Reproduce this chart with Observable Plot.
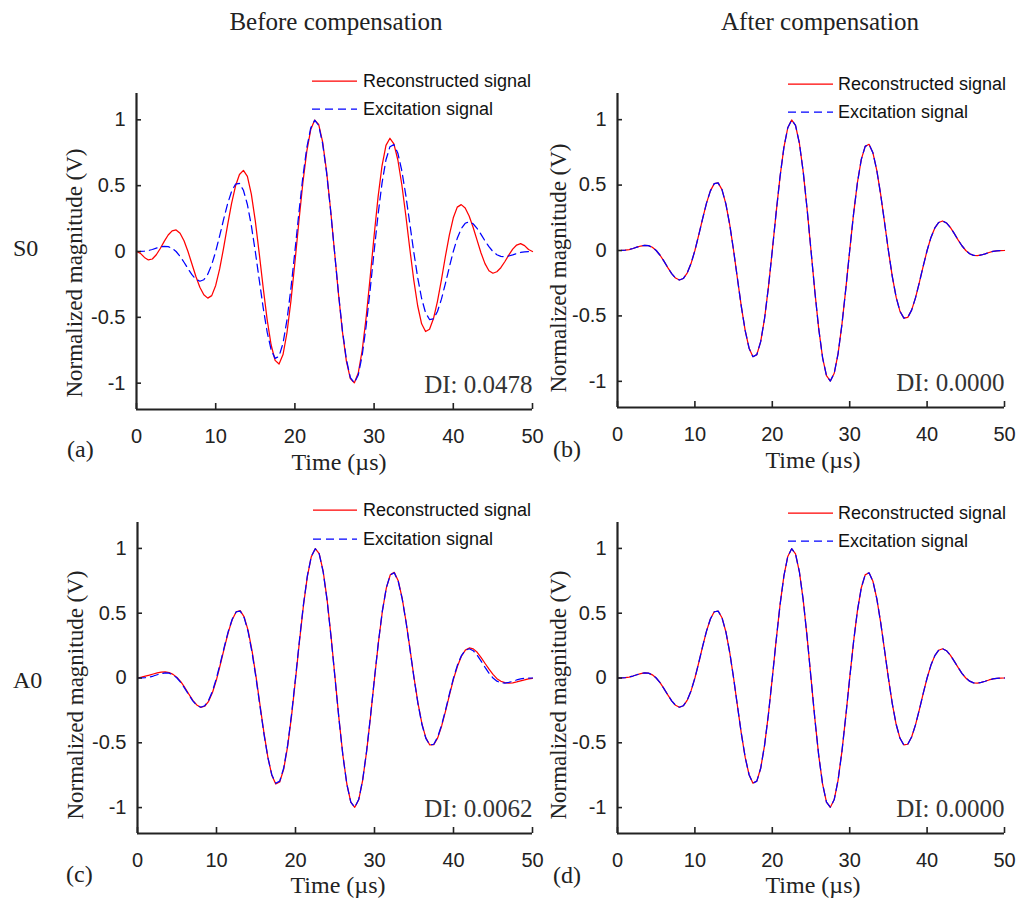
<!DOCTYPE html>
<html>
<head>
<meta charset="utf-8">
<script src="https://cdn.jsdelivr.net/npm/d3@7"></script>
<script src="https://cdn.jsdelivr.net/npm/@observablehq/plot@0.6"></script>
<style>
  body { margin: 0; background: #fff; }
  #fig { position: relative; width: 1016px; height: 902px; overflow: hidden; background: #fff; }
  #fig > svg { position: absolute; }
</style>
</head>
<body>
<div id="fig"></div>
<script>
// ---------------- data ----------------
const time = [0,0.5,1,1.5,2,2.5,3,3.5,4,4.5,5,5.5,6,6.5,7,7.5,8,8.5,9,9.5,
  10,10.5,11,11.5,12,12.5,13,13.5,14,14.5,15,15.5,16,16.5,17,17.5,18,18.5,19,19.5,
  20,20.5,21,21.5,22,22.5,23,23.5,24,24.5,25,25.5,26,26.5,27,27.5,28,28.5,29,29.5,
  30,30.5,31,31.5,32,32.5,33,33.5,34,34.5,35,35.5,36,36.5,37,37.5,38,38.5,39,39.5,
  40,40.5,41,41.5,42,42.5,43,43.5,44,44.5,45,45.5,46,46.5,47,47.5,48,48.5,49,49.5,50];

// Excitation signal (normalized)
const excitation = [
  0, 0.0003, 0.0024, 0.0074, 0.0152, 0.0251, 0.0342, 0.0394, 0.0372, 0.0246,
  0, -0.0363, -0.0815, -0.1305, -0.1763, -0.2107, -0.2257, -0.2143, -0.1726, -0.0998,
  0, 0.1187, 0.2443, 0.3618, 0.4557, 0.5113, 0.5168, 0.4654, 0.3570, 0.1972,
  0, -0.2162, -0.4286, -0.6129, -0.7467, -0.8118, -0.7961, -0.6967, -0.5197, -0.2797,
  0, 0.2913, 0.5640, 0.7878, 0.9382, 0.9975, 0.9572, 0.8198, 0.5989, 0.3156,
  0, -0.3156, -0.5989, -0.8198, -0.9572, -0.9975, -0.9382, -0.7878, -0.5640, -0.2913,
  0, 0.2797, 0.5197, 0.6967, 0.7961, 0.8118, 0.7467, 0.6129, 0.4286, 0.2162,
  0, -0.1972, -0.3570, -0.4654, -0.5168, -0.5113, -0.4557, -0.3618, -0.2443, -0.1187,
  0, 0.0998, 0.1726, 0.2143, 0.2257, 0.2107, 0.1763, 0.1305, 0.0815, 0.0363,
  0, -0.0246, -0.0372, -0.0394, -0.0342, -0.0251, -0.0152, -0.0074, -0.0024, -0.0003,
  0];

// (a) S0 reconstructed, before compensation
const reconstructedS0Before = [
  0, -0.014, -0.045, -0.064, -0.057, -0.025, 0.023, 0.077, 0.125, 0.157,
  0.164, 0.139, 0.082, 0.000, -0.095, -0.190, -0.272, -0.329, -0.354, -0.335,
  -0.258, -0.132, 0.027, 0.200, 0.363, 0.497, 0.585, 0.616, 0.570, 0.436,
  0.233, -0.016, -0.277, -0.519, -0.710, -0.827, -0.855, -0.783, -0.617, -0.375,
  -0.083, 0.226, 0.518, 0.760, 0.926, 0.998, 0.966, 0.832, 0.609, 0.321,
  0, -0.321, -0.609, -0.832, -0.966, -0.998, -0.923, -0.750, -0.498, -0.197,
  0.119, 0.413, 0.651, 0.806, 0.860, 0.817, 0.695, 0.507, 0.275, 0.025,
  -0.213, -0.412, -0.549, -0.608, -0.590, -0.509, -0.378, -0.215, -0.038, 0.125,
  0.256, 0.337, 0.356, 0.330, 0.270, 0.184, 0.086, -0.011, -0.092, -0.146,
  -0.165, -0.154, -0.123, -0.078, -0.028, 0.018, 0.049, 0.060, 0.045, 0.015,
  0];

// (c) A0 reconstructed, before compensation
const reconstructedA0Before = [
  0, 0.006, 0.014, 0.022, 0.031, 0.039, 0.045, 0.047, 0.042, 0.028,
  0.004, -0.030, -0.075, -0.125, -0.172, -0.208, -0.226, -0.218, -0.180, -0.110,
  -0.012, 0.108, 0.235, 0.355, 0.452, 0.511, 0.520, 0.472, 0.367, 0.210,
  0.012, -0.205, -0.420, -0.610, -0.750, -0.818, -0.803, -0.705, -0.530, -0.292,
  -0.012, 0.282, 0.556, 0.783, 0.936, 0.998, 0.960, 0.825, 0.605, 0.322,
  0.006, -0.312, -0.596, -0.818, -0.957, -0.998, -0.940, -0.790, -0.568, -0.296,
  -0.004, 0.276, 0.517, 0.696, 0.797, 0.815, 0.751, 0.616, 0.432, 0.221,
  0.004, -0.192, -0.352, -0.462, -0.517, -0.515, -0.462, -0.370, -0.254, -0.129,
  -0.008, 0.090, 0.168, 0.215, 0.232, 0.225, 0.198, 0.157, 0.112, 0.068,
  0.028, -0.005, -0.025, -0.036, -0.040, -0.037, -0.030, -0.022, -0.014, -0.007,
  -0.002];

// (b), (d) after compensation: reconstruction coincides with excitation (DI = 0)
const reconstructedS0After = excitation;
const reconstructedA0After = excitation;

const xTicks = [0, 10, 20, 30, 40, 50];
const yTicks = [-1, -0.5, 0, 0.5, 1];
const xDomain = [0, 50];
const yDomain = [-1.2, 1.2];
const seriesNames = ["Reconstructed signal", "Excitation signal"];
const columnTitles = ["Before compensation", "After compensation"];
const rowTitles = ["S0", "A0"];
const panelLetters = ["(a)", "(b)", "(c)", "(d)"];
const diLabels = ["DI: 0.0478", "DI: 0.0000", "DI: 0.0062", "DI: 0.0000"];
const xLabel = "Time (\u00b5s)";
const yLabel = "Normalized magnitude (V)";

// ---------------- layout ----------------
const SERIF = '"Liberation Serif", "Times New Roman", serif';
const SANS = '"Liberation Sans", Arial, sans-serif';
const RED = "#ff0000", BLUE = "#0000ff", INK = "#222";

const panels = [
  {rec: reconstructedS0Before, di: diLabels[0], left: 0,   top: 60,  w: 560, h: 389, ml: 136, mr: 28, mt: 33, mb: 40,
   letter: [67, 457], xl: [339, 470], yl: [82, 273], leg: [312, 357, 363, 81, 109]},
  {rec: reconstructedS0After,  di: diLabels[1], left: 560, top: 60,  w: 456, h: 387, ml: 57,  mr: 12, mt: 33, mb: 40,
   letter: [553, 457], xl: [813, 468], yl: [566, 268], leg: [788, 833, 838, 84, 112]},
  {rec: reconstructedA0Before, di: diLabels[2], left: 0,   top: 490, w: 560, h: 383, ml: 137, mr: 28, mt: 32, mb: 40,
   letter: [66, 882], xl: [338, 893], yl: [83, 695], leg: [313, 357, 363, 510, 539]},
  {rec: reconstructedA0After,  di: diLabels[3], left: 560, top: 490, w: 456, h: 383, ml: 57,  mr: 12, mt: 32, mb: 40,
   letter: [553, 883], xl: [813, 893], yl: [566, 695], leg: [788, 833, 838, 513, 541]}
];

const fig = document.getElementById("fig");

panels.forEach((p) => {
  const rows = time.map((t, i) => ({t, rec: p.rec[i], exc: excitation[i]}));
  const svg = Plot.plot({
    width: p.w, height: p.h,
    marginLeft: p.ml, marginRight: p.mr, marginTop: p.mt, marginBottom: p.mb,
    style: {fontFamily: SANS, fontSize: "20px", color: INK, background: "transparent", overflow: "visible"},
    x: {domain: xDomain},
    y: {domain: yDomain},
    marks: [
      Plot.lineY(rows, {x: "t", y: "rec", stroke: RED, strokeWidth: 1.25}),
      Plot.lineY(rows, {x: "t", y: "exc", stroke: BLUE, strokeWidth: 1.25, strokeDasharray: "8,5"}),
      Plot.ruleX([xDomain[0]], {stroke: INK, strokeWidth: 2.2}),
      Plot.ruleY([yDomain[0]], {stroke: INK, strokeWidth: 2.2}),
      Plot.axisX(xTicks, {tickSize: 6, dy: -6, tickFormat: () => "", label: null, strokeWidth: 1.6}),
      Plot.axisX(xTicks, {tickSize: 0, tickPadding: 19, tickFormat: (d) => String(d), label: null}),
      Plot.axisY(yTicks, {tickSize: 5, dx: 5, tickFormat: () => "", label: null, strokeWidth: 1.6}),
      Plot.axisY(yTicks, {tickSize: 0, tickPadding: 11, tickFormat: (d) => String(d), label: null}),
      Plot.text([p.di], {text: (d) => d, frameAnchor: "bottom-right", textAnchor: "end", lineAnchor: "bottom",
        dy: -17, fontFamily: SERIF, fontSize: 25, fill: "#333"})
    ]
  });
  svg.style.position = "absolute";
  svg.style.left = p.left + "px";
  svg.style.top = p.top + "px";
  fig.appendChild(svg);
});

// ---------------- annotations (titles, labels, legends) ----------------
const ov = d3.select(fig).append("svg")
  .attr("width", 1016).attr("height", 902)
  .style("left", "0px").style("top", "0px").style("pointer-events", "none");

const txt = (s, x, y, opts = {}) => ov.append("text")
  .attr("x", x).attr("y", y)
  .attr("font-family", opts.family || SERIF)
  .attr("font-size", opts.size || 24)
  .attr("fill", opts.fill || "#222")
  .attr("text-anchor", opts.anchor || "start")
  .attr("dominant-baseline", opts.baseline || "alphabetic")
  .attr("transform", opts.rotate ? `rotate(${opts.rotate},${x},${y})` : null)
  .text(s);

txt(columnTitles[0], 336, 30, {size: 25, anchor: "middle"});
txt(columnTitles[1], 820, 30, {size: 25, anchor: "middle"});
txt(rowTitles[0], 13, 256, {size: 24});
txt(rowTitles[1], 13, 688, {size: 24});

panels.forEach((p, i) => {
  txt(panelLetters[i], p.letter[0], p.letter[1], {size: 24});
  txt(xLabel, p.xl[0], p.xl[1], {size: 24, anchor: "middle"});
  txt(yLabel, p.yl[0], p.yl[1], {size: 23, anchor: "middle", rotate: -90});
  const [x1, x2, tx, y1, y2] = p.leg;
  ov.append("line").attr("x1", x1).attr("x2", x2).attr("y1", y1).attr("y2", y1)
    .attr("stroke", RED).attr("stroke-width", 1.25);
  ov.append("line").attr("x1", x1).attr("x2", x2).attr("y1", y2).attr("y2", y2)
    .attr("stroke", BLUE).attr("stroke-width", 1.25).attr("stroke-dasharray", "8,5");
  txt(seriesNames[0], tx, y1, {family: SANS, size: 18, baseline: "central", fill: "#111"});
  txt(seriesNames[1], tx, y2, {family: SANS, size: 18, baseline: "central", fill: "#111"});
});
</script>
</body>
</html>
